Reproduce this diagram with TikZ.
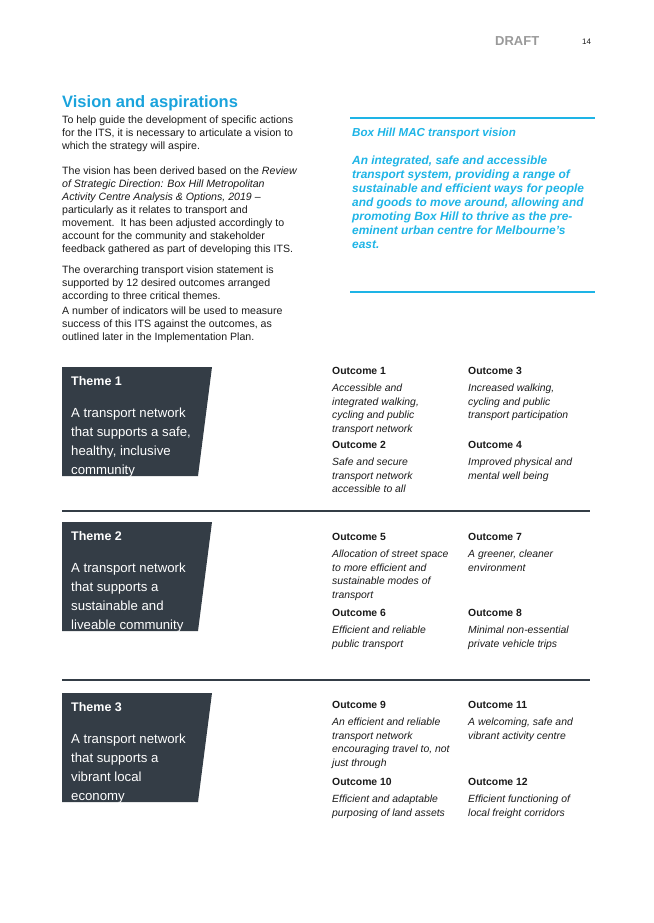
\documentclass[tikz,border=0pt]{standalone}
\usepackage{fontspec}
\setmainfont{Liberation Sans}
\definecolor{cyanv}{HTML}{1EB4E6}
\definecolor{titleb}{HTML}{1AA3DC}
\definecolor{slate}{HTML}{343D46}
\definecolor{txt}{HTML}{1A1A1A}
\begin{document}
\begin{tikzpicture}[x=1pt,y=-1pt,
  body/.style={anchor=north west,inner sep=0,align=left,font=\fontsize{10.6}{13}\selectfont,text=txt},
  ohead/.style={anchor=north west,inner sep=0,font=\fontsize{10.4}{12}\selectfont\bfseries,text=txt},
  otext/.style={anchor=north west,inner sep=0,align=left,font=\fontsize{10.4}{13.6}\selectfont\itshape,text=txt},
  themebox/.style={fill=slate,draw=none},
  thead/.style={anchor=north west,inner sep=0,font=\fontsize{12.5}{15}\selectfont\bfseries,text=white},
  ttext/.style={anchor=north west,inner sep=0,align=left,font=\fontsize{13.2}{18.8}\selectfont,text=white},
  sep/.style={draw=slate,line width=1.3pt},
  vline/.style={draw=cyanv,line width=2pt}]
\useasboundingbox (0,0) rectangle (653,923);
\node[anchor=base west,inner sep=0,font=\fontsize{13}{14}\selectfont\bfseries,text=gray!80] (draft) at (495,46) {DRAFT};
\node[anchor=base west,inner sep=0,font=\fontsize{8}{10}\selectfont,text=txt] (pg) at (582,45) {14};
\node[anchor=base west,inner sep=0,font=\fontsize{16.5}{19}\selectfont\bfseries,text=titleb] (title) at (62,108) {Vision and aspirations};
\node[body] (p1) at (62,116) {To help guide the development of specific actions\\for the ITS, it is necessary to articulate a vision to\\which the strategy will aspire.};
\node[body] (p2) at (62,167) {The vision has been derived based on the \textit{Review}\\\textit{of Strategic Direction: Box Hill Metropolitan}\\\textit{Activity Centre Analysis \& Options, 2019} --\\particularly as it relates to transport and\\movement.\ \ It has been adjusted accordingly to\\account for the community and stakeholder\\feedback gathered as part of developing this ITS.};
\node[body] (p3) at (62,266) {The overarching transport vision statement is\\supported by 12 desired outcomes arranged\\according to three critical themes.};
\node[body] (p4) at (62,307) {A number of indicators will be used to measure\\success of this ITS against the outcomes, as\\outlined later in the Implementation Plan.};
% vision box
\coordinate (v1a) at (350,118); \coordinate (v1b) at (595,118);
\coordinate (v2a) at (350,292); \coordinate (v2b) at (595,292);
\draw[vline] (v1a) -- (v1b);
\draw[vline] (v2a) -- (v2b);
\node[anchor=north west,inner sep=0,font=\fontsize{11.6}{14}\selectfont\bfseries\itshape,text=cyanv] (vt) at (352,128) {Box Hill MAC transport vision};
\node[anchor=north west,inner sep=0,align=left,font=\fontsize{11.9}{13.9}\selectfont\bfseries\itshape,text=cyanv] (vb) at (352,156) {An integrated, safe and accessible\\transport system, providing a range of\\sustainable and efficient ways for people\\and goods to move around, allowing and\\promoting Box Hill to thrive as the pre-\\eminent urban centre for Melbourne’s\\east.};
% themes
\fill[themebox] (62,367) -- (212,367) -- (198,476) -- (62,476) -- cycle;
\node[thead] (th1) at (71,376) {Theme 1};
\node[ttext] (tt1) at (71,408) {A transport network\\that supports a safe,\\healthy, inclusive\\community};
\fill[themebox] (62,522) -- (212,522) -- (198,631) -- (62,631) -- cycle;
\node[thead] (th2) at (71,531) {Theme 2};
\node[ttext] (tt2) at (71,563) {A transport network\\that supports a\\sustainable and\\liveable community};
\fill[themebox] (62,693) -- (212,693) -- (198,802) -- (62,802) -- cycle;
\node[thead] (th3) at (71,702) {Theme 3};
\node[ttext] (tt3) at (71,734) {A transport network\\that supports a\\vibrant local\\economy};
\coordinate (s1a) at (62,511); \coordinate (s1b) at (590,511);
\coordinate (s2a) at (62,680); \coordinate (s2b) at (590,680);
\draw[sep] (s1a) -- (s1b);
\draw[sep] (s2a) -- (s2b);
% outcomes
\node[ohead] (o1h) at (332,367) {Outcome 1};
\node[otext] (o1t) at (332,384) {Accessible and\\integrated walking,\\cycling and public\\transport network};
\node[ohead] (o2h) at (332,441) {Outcome 2};
\node[otext] (o2t) at (332,458) {Safe and secure\\transport network\\accessible to all};
\node[ohead] (o3h) at (468,367) {Outcome 3};
\node[otext] (o3t) at (468,384) {Increased walking,\\cycling and public\\transport participation};
\node[ohead] (o4h) at (468,441) {Outcome 4};
\node[otext] (o4t) at (468,458) {Improved physical and\\mental well being};
\node[ohead] (o5h) at (332,533) {Outcome 5};
\node[otext] (o5t) at (332,550) {Allocation of street space\\to more efficient and\\sustainable modes of\\transport};
\node[ohead] (o6h) at (332,609) {Outcome 6};
\node[otext] (o6t) at (332,626) {Efficient and reliable\\public transport};
\node[ohead] (o7h) at (468,533) {Outcome 7};
\node[otext] (o7t) at (468,550) {A greener, cleaner\\environment};
\node[ohead] (o8h) at (468,609) {Outcome 8};
\node[otext] (o8t) at (468,626) {Minimal non-essential\\private vehicle trips};
\node[ohead] (o9h) at (332,701) {Outcome 9};
\node[otext] (o9t) at (332,718) {An efficient and reliable\\transport network\\encouraging travel to, not\\just through};
\node[ohead] (o10h) at (332,778) {Outcome 10};
\node[otext] (o10t) at (332,795) {Efficient and adaptable\\purposing of land assets};
\node[ohead] (o11h) at (468,701) {Outcome 11};
\node[otext] (o11t) at (468,718) {A welcoming, safe and\\vibrant activity centre};
\node[ohead] (o12h) at (468,778) {Outcome 12};
\node[otext] (o12t) at (468,795) {Efficient functioning of\\local freight corridors};
\end{tikzpicture}
\end{document}
